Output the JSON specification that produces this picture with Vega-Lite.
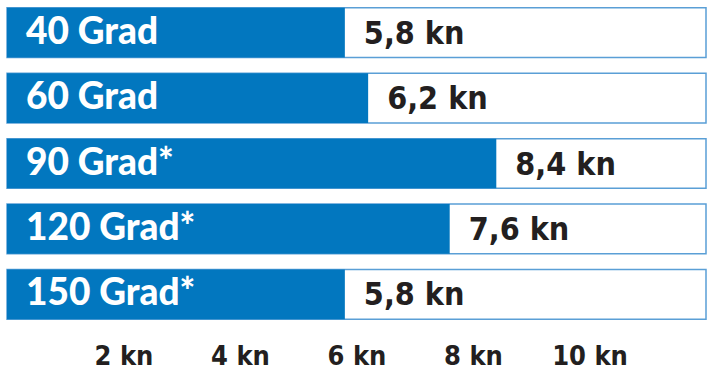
{
  "$schema": "https://vega.github.io/schema/vega-lite/v6.json",
  "width": 699,
  "height": 327,
  "padding": {"left": 6, "top": 0, "right": 7, "bottom": 0},
  "background": "white",
  "config": {"view": {"stroke": null}},
  "data": {
    "values": [
      {"winkel": "40 Grad", "speed": 5.8, "wert": "5,8 kn"},
      {"winkel": "60 Grad", "speed": 6.2, "wert": "6,2 kn"},
      {"winkel": "90 Grad*", "speed": 8.4, "wert": "8,4 kn"},
      {"winkel": "120 Grad*", "speed": 7.6, "wert": "7,6 kn"},
      {"winkel": "150 Grad*", "speed": 5.8, "wert": "5,8 kn"}
    ]
  },
  "encoding": {
    "y": {
      "field": "winkel",
      "type": "nominal",
      "sort": null,
      "axis": null,
      "scale": {"paddingInner": 0.24, "paddingOuter": 0.12}
    }
  },
  "layer": [
    {
      "mark": {"type": "bar", "fill": "white", "stroke": "#5a9fd6", "strokeWidth": 1.5},
      "encoding": {
        "x": {"datum": 0, "type": "quantitative", "scale": {"domain": [0, 12], "nice": false, "zero": true},
          "axis": {
            "values": [2, 4, 6, 8, 10],
            "labelExpr": "datum.value + ' kn'",
            "domain": false, "ticks": false, "grid": false, "title": null,
            "labelFont": "DejaVu Sans Condensed, Liberation Sans", "labelFontWeight": "bold",
            "labelFontSize": 27, "labelColor": "#231f20", "labelPadding": 16,
            "labelFlush": false
          }},
        "x2": {"datum": 12}
      }
    },
    {
      "mark": {"type": "bar", "fill": "#0277bf"},
      "encoding": {
        "x": {"field": "speed", "type": "quantitative"}
      }
    },
    {
      "mark": {"type": "text", "align": "left", "baseline": "middle", "dx": 19, "font": "Lato", "fontWeight": 900, "fontSize": 37, "fill": "white"},
      "encoding": {
        "x": {"datum": 0, "type": "quantitative"},
        "text": {"field": "winkel"}
      }
    },
    {
      "mark": {"type": "text", "align": "left", "baseline": "middle", "dx": 19, "dy": 1, "font": "DejaVu Sans Condensed, Liberation Sans", "fontWeight": "bold", "fontSize": 32, "fill": "#231f20"},
      "encoding": {
        "x": {"field": "speed", "type": "quantitative"},
        "text": {"field": "wert"}
      }
    }
  ]
}
